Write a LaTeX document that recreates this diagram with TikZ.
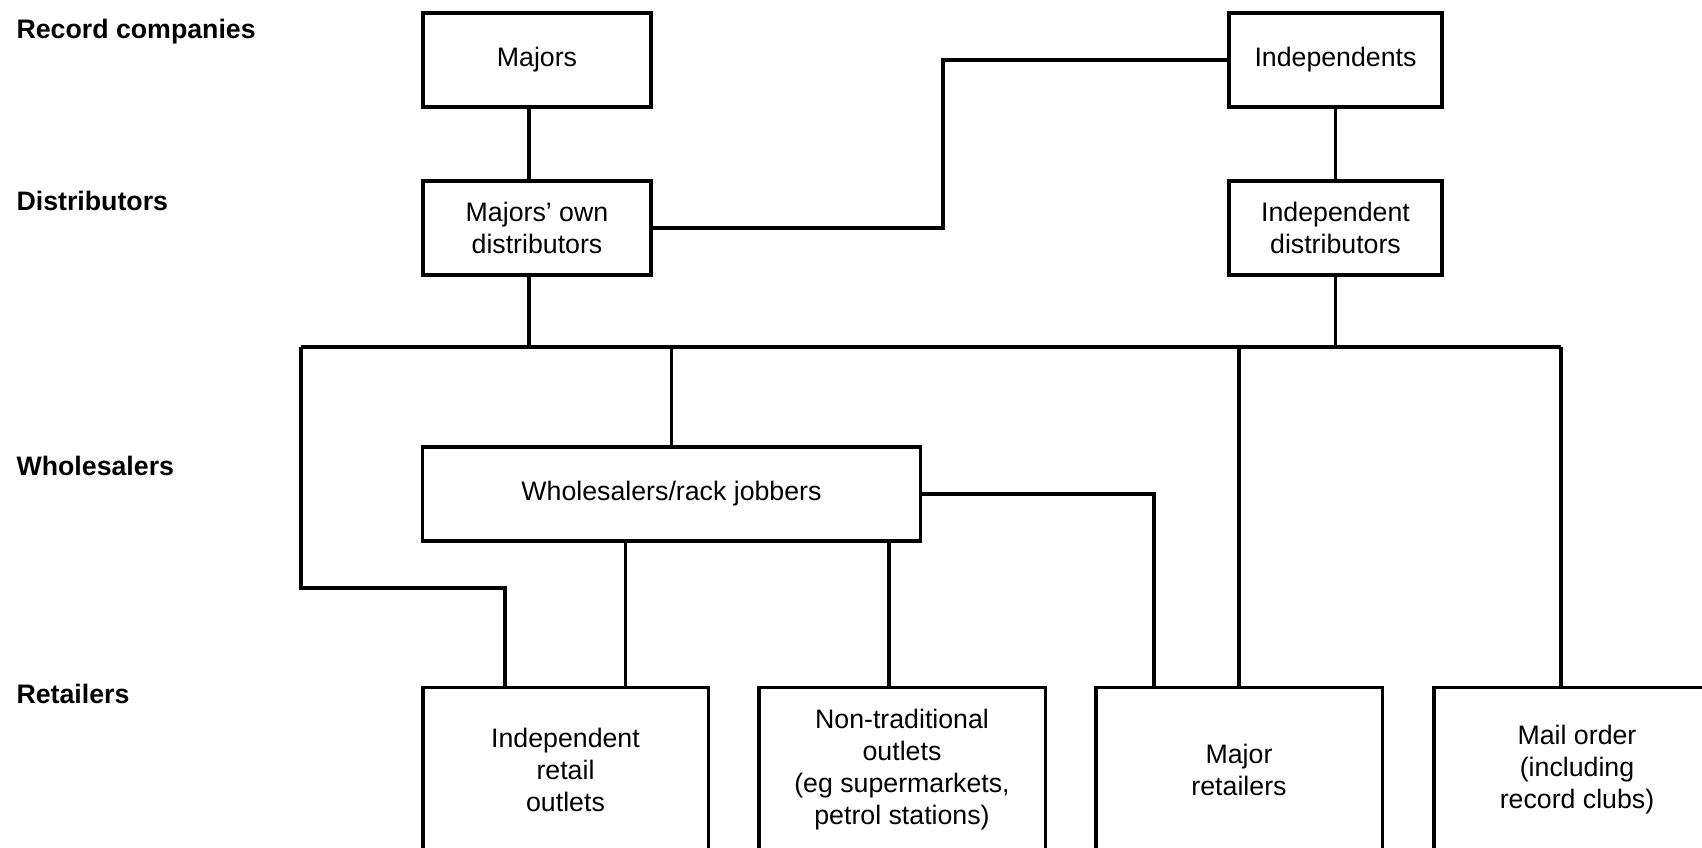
\documentclass[tikz,border=0pt]{standalone}
\usepackage{fontspec}
\setmainfont{Liberation Sans}
\usetikzlibrary{calc}

\begin{document}
\begin{tikzpicture}[x=0.01cm,y=-0.01cm,line width=0.9pt,
  font=\fontsize{7.6}{9.1}\selectfont,
  box/.style={draw,align=center,minimum height=0.94cm},
  outlet/.style={draw,align=center,anchor=north,minimum width=2.86cm,minimum height=1.64cm},
  level/.style={anchor=west,inner sep=0pt,font=\fontsize{7.6}{9.1}\selectfont\bfseries}]

\useasboundingbox (0,0) rectangle (1702,848);
\clip (0,0) rectangle (1702,848);

% --- Livelli
\node[level] (lrec)  at (15,32)  {Record companies};
\node[level] (ldist) at (15,201) {Distributors};
\node[level] (lwho)  at (15,466) {Wholesalers};
\node[level] (lret)  at (15,694) {Retailers};

% --- Case e distributori
\node[box,minimum width=2.28cm] (majors)  at (537,60)    {Majors};
\node[box,minimum width=2.13cm] (indep)   at (1335.5,60) {Independents};
\node[box,minimum width=2.28cm] (majdist) at (537,228)   {Majors' own\\distributors};
\node[box,minimum width=2.13cm] (inddist) at (1335.5,228) {Independent\\distributors};

% --- Grossisti
\node[box,minimum width=4.97cm] (whole) at (671.5,494) {Wholesalers/rack jobbers};

% --- Dettaglianti (tagliati in basso)
\node[outlet,minimum width=2.85cm] (iro) at (565.5,686) {Independent\\retail\\outlets};
\node[outlet] (nto)    at (902,686)  {Non-traditional\\outlets\\(eg supermarkets,\\petrol stations)};
\node[outlet] (majret) at (1239,686) {Major\\retailers};
\node[outlet] (mail)   at (1577,686) {Mail order\\(including\\record clubs)};

% --- Collegamenti in alto
\draw ($(majors.south)+(-8,0)$) -- ($(majdist.north)+(-8,0)$);
\draw (indep.south) -- (inddist.north);
\coordinate (jog) at (943,144);
\draw (majdist.east) -| (jog) |- (indep.west);

% --- Linea di distribuzione
\coordinate (busL) at (301,347);
\coordinate (busR) at (1561,347);
\draw (busL) -- (busR);
\coordinate (md) at ($(majdist.south)+(-8,0)$);
\draw (md) -- (md |- busL);
\draw (inddist.south) -- (inddist.south |- busL);
\draw (whole.north |- busL) -- (whole.north);
\draw (majret.north |- busL) -- (majret.north);
\draw (busR) -- (busR |- mail.north);
\coordinate (kneeL) at (505,588);
\draw (busL) |- (kneeL) -- (kneeL |- iro.north);

% --- Dai grossisti ai dettaglianti
\foreach \o/\dx in {iro/60,nto/-13}{
  \coordinate (t) at ($(\o.north)+(\dx,0)$);
  \draw (t) -- (t |- whole.south);
}
\draw (whole.east) -| ($(majret.north)+(-85,0)$);

\end{tikzpicture}
\end{document}
